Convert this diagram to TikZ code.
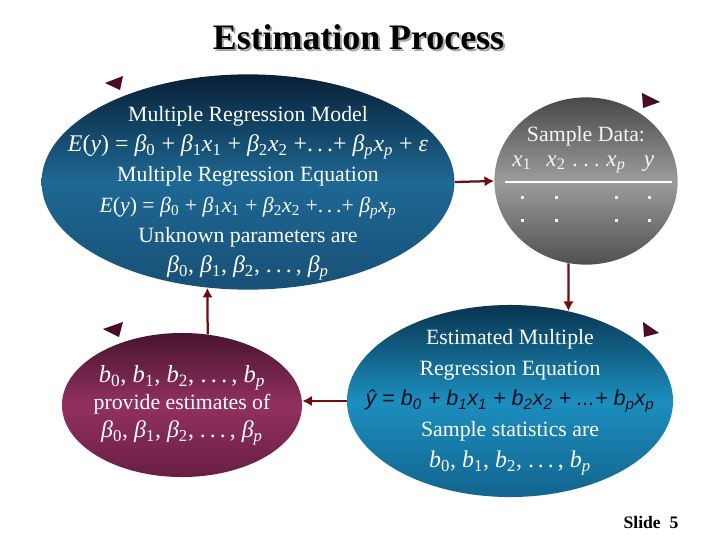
\documentclass[tikz,border=0pt]{standalone}
\usepackage{fontspec}
\setmainfont{Liberation Serif}
\newfontfamily\eqfont{Liberation Sans}
\usetikzlibrary{arrows.meta,shapes.geometric}
\definecolor{arrowred}{HTML}{6E0D12}
\definecolor{tipmaroon}{HTML}{4A0A28}
\definecolor{eqdark}{HTML}{0A0F1E}
\newcommand{\bsym}[1]{\textit{β}\textsubscript{#1}}
\newcommand{\xsym}[1]{\textit{x}\textsubscript{#1}}
\newcommand{\bcoef}[1]{\textit{b}\textsubscript{#1}}
\tikzset{
  blob/.style={ellipse, inner sep=0pt},
  blobtxt/.style={text=white, align=center, font=\fontsize{15.5}{21.5}\selectfont},
  graytxt/.style={text=white!92!gray, font=\fontsize{15.5}{18}\selectfont, inner sep=0pt},
  colhead/.style={graytxt, anchor=base, font=\fontsize{16.5}{18}\selectfont},
  flow/.style={-{Latex[length=2.4mm,width=2.6mm]}, line width=1.6pt, arrowred}
}
\begin{document}
\begin{tikzpicture}[x=0.025cm,y=-0.025cm]
\fill[white] (0,0) rectangle (720,540);
\useasboundingbox (0,0) rectangle (720,540);
% title with shadow
\node[font=\bfseries\fontsize{25.5}{28}\selectfont, text=black!35] (titleshade) at (360.5,39.5) {Estimation Process};
\node[font=\bfseries\fontsize{25.5}{28}\selectfont] (title) at (358.5,37.5) {Estimation Process};
% the four ellipses
\node[blob, minimum width=10.32cm, minimum height=5.38cm,
      top color={rgb,255:red,8;green,32;blue,54}, bottom color={rgb,255:red,24;green,80;blue,118},
      middle color={rgb,255:red,30;green,104;blue,148}] (model) at (248,182) {};
\node[blob, minimum width=4.58cm, minimum height=4.18cm,
      top color={rgb,255:red,72;green,72;blue,72}, bottom color={rgb,255:red,80;green,80;blue,80},
      middle color={rgb,255:red,156;green,156;blue,156}] (data) at (586,181) {};
\node[blob, minimum width=8.15cm, minimum height=4.8cm,
      top color={rgb,255:red,9;green,52;blue,80}, bottom color={rgb,255:red,18;green,100;blue,142},
      middle color={rgb,255:red,28;green,142;blue,190}] (fitted) at (510,401) {};
\node[blob, minimum width=6.0cm, minimum height=3.6cm,
      top color={rgb,255:red,72;green,20;blue,46}, bottom color={rgb,255:red,104;green,30;blue,68},
      middle color={rgb,255:red,146;green,48;blue,96}] (estim) at (182,405) {};
% texts
\node[blobtxt] (modeltxt) at (248,193) {Multiple Regression Model\\
  {\fontsize{17}{21.5}\selectfont\textit{E}(\textit{y}) = \bsym{0} + \bsym{1}\xsym{1} + \bsym{2}\xsym{2} +.\,.\,.+ \bsym{\textit{p}}\xsym{\textit{p}} + \textit{ε}}\\
  Multiple Regression Equation\\
  \textit{E}(\textit{y}) = \bsym{0} + \bsym{1}\xsym{1} + \bsym{2}\xsym{2} +.\,.\,.+ \bsym{\textit{p}}\xsym{\textit{p}}\\
  Unknown parameters are\\
  {\fontsize{17}{21.5}\selectfont\bsym{0}, \bsym{1}, \bsym{2}, .\,.\,.\,, \bsym{\textit{p}}}};
\node[graytxt] (datatitle) at (586,136) {Sample Data:};
\node[colhead] (colxa) at (522,166) {\xsym{1}};
\node[colhead] (colxb) at (556,166) {\xsym{2}};
\node[colhead, font=\fontsize{15.5}{18}\selectfont] (coldots) at (586,166) {.\ .\ .};
\node[colhead] (colxp) at (616,166) {\xsym{\textit{p}}};
\node[colhead] (coly) at (649,166) {\textit{y}};
\draw[white, line width=1.1pt] (505,182) -- (672,182);
\foreach \cx in {522,556,616,649}
  \foreach \cy in {197,220}
    \fill[white!90!gray] (\cx-1.5,\cy-1.5) rectangle +(3,3);
\node[blobtxt, font=\fontsize{15.5}{22}\selectfont] (fittedtxt) at (510,402) {Estimated Multiple\\
  Regression Equation\\
  {\eqfont\itshape\fontsize{15.3}{22}\selectfont\color{eqdark}ŷ = b\textsubscript{0} + b\textsubscript{1}x\textsubscript{1} + b\textsubscript{2}x\textsubscript{2} + ...+ b\textsubscript{p}x\textsubscript{p}}\\
  Sample statistics are\\
  {\fontsize{17}{22}\selectfont\bcoef{0}, \bcoef{1}, \bcoef{2}, .\,.\,.\,, \bcoef{\textit{p}}}};
\node[blobtxt, font=\fontsize{15.5}{19.5}\selectfont] (estimtxt) at (182,405) {%
  {\fontsize{17.5}{19.5}\selectfont\bcoef{0}, \bcoef{1}, \bcoef{2}, .\,.\,.\,, \bcoef{\textit{p}}}\\
  provide estimates of\\
  {\fontsize{17}{19.5}\selectfont\bsym{0}, \bsym{1}, \bsym{2}, .\,.\,.\,, \bsym{\textit{p}}}};
% connectors
\draw[flow] (model.east) -- (data.west);
\draw[flow] (data.-102) -- (fitted.57);
\draw[flow] (fitted.west) -- (estim.east |- fitted.west);
\draw[flow] (estim.70) -- (model.249);
% corner markers
\fill[tipmaroon] (105,83) -- (123,76) -- (120,90) -- cycle;
\fill[tipmaroon] (642,93) -- (660,102) -- (643,108) -- cycle;
\fill[tipmaroon] (103,329) -- (123,322) -- (119,337) -- cycle;
\fill[tipmaroon] (643,322) -- (659,333) -- (644,337) -- cycle;
\node[font=\bfseries\fontsize{12.5}{14}\selectfont] (slideno) at (651,522) {Slide\ \ 5};
\end{tikzpicture}
\end{document}
